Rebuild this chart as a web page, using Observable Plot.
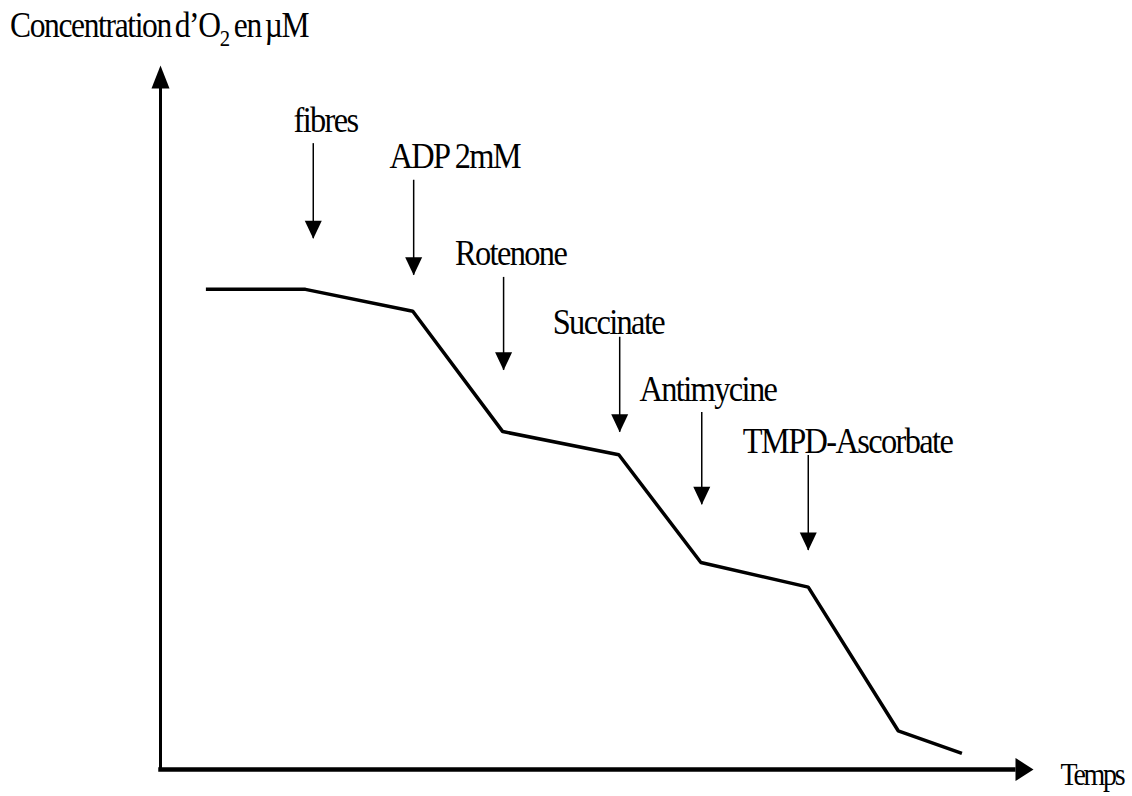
<!DOCTYPE html>
<html>
<head>
<meta charset="utf-8">
<script src="https://cdn.jsdelivr.net/npm/d3@7"></script>
<script src="https://cdn.jsdelivr.net/npm/@observablehq/plot@0.6"></script>
<style>
  html, body { margin: 0; padding: 0; background: #fff; }
  #wrap { width: 1132px; }
  #title { position: relative; height: 50px; font-family: "Liberation Serif", "Times New Roman", serif; color: #000; }
  #title span.t { position: absolute; left: 10px; top: 8px; font-size: 35px; line-height: 35px; letter-spacing: -1.5px; word-spacing: -3px; white-space: nowrap; display: inline-block; transform: scaleX(0.9); transform-origin: 0 0; }
  #title sub { font-size: 23px; vertical-align: -9px; line-height: 0; letter-spacing: 0; }
  svg { display: block; }
</style>
</head>
<body>
<div id="wrap">
  <div id="title"><span class="t">Concentration d’O<sub>2</sub> en µM</span></div>
  <div id="chart"></div>
</div>
<script>
// Oxygen concentration trace (time in arbitrary units, concentration in % of axis)
const traceTime = [5.2, 16.6, 28.9, 39.2, 52.5, 61.9, 74.2, 84.5, 91.8];
const traceConc = [68.2, 68.2, 65.1, 48.0, 44.7, 29.4, 25.9, 5.5, 2.3];

// Additions (annotation arrows)
const addNames  = ["fibres", "ADP 2mM", "Rotenone", "Succinate", "Antimycine", "TMPD-Ascorbate"];
const addTime   = [17.5, 29.0, 39.3, 52.6, 62.0, 74.2];
const addStart  = [88.9, 83.7, 69.9, 61.4, 50.7, 44.6];
const addTip    = [75.4, 70.2, 56.7, 47.9, 37.6, 31.1];
const labelTime = [18.9, 33.7, 40.1, 51.3, 62.7, 78.7];
const labelConc = [90.5, 85.4, 71.7, 61.8, 52.3, 44.9];

const xLabel = "Temps";

const trace = traceTime.map((t, i) => ({t, c: traceConc[i]}));
const adds = addNames.map((name, i) => ({
  name, t: addTime[i], start: addStart[i], tip: addTip[i], lt: labelTime[i], lc: labelConc[i]
}));

// Filled arrowhead symbols (tip at the origin)
const headDown = {draw(ctx) { ctx.moveTo(0, 0); ctx.lineTo(-8.5, -18); ctx.lineTo(8.5, -18); ctx.closePath(); }};
const headUp = {draw(ctx) { ctx.moveTo(0, 0); ctx.lineTo(-9, 23); ctx.lineTo(9, 23); ctx.closePath(); }};
const headRight = {draw(ctx) { ctx.moveTo(0, 0); ctx.lineTo(-18, -11.5); ctx.lineTo(-18, 11.5); ctx.closePath(); }};

const font = "Liberation Serif, Times New Roman, serif";

const chart = Plot.plot({
  width: 1132,
  height: 746,
  margin: 0,
  style: {background: "#fff", color: "#000"},
  x: {domain: [0, 100], range: [160, 1033], axis: null},
  y: {domain: [0, 100], range: [719, 15], axis: null},
  marks: [
    // axes
    Plot.ruleX([0], {y1: 0, y2: 97, stroke: "#000", strokeWidth: 3}),
    Plot.ruleY([0], {x1: -0.2, x2: 98, stroke: "#000", strokeWidth: 4.5}),
    Plot.dot([{t: 0, c: 100}], {x: "t", y: "c", symbol: headUp, fill: "#000", stroke: "none"}),
    Plot.dot([{t: 100, c: 0}], {x: "t", y: "c", symbol: headRight, fill: "#000", stroke: "none"}),
    // trace
    Plot.line(trace, {x: "t", y: "c", stroke: "#000", strokeWidth: 3.5, strokeLinejoin: "miter", strokeLinecap: "butt"}),
    // annotation arrows
    Plot.ruleX(adds, {x: "t", y1: "start", y2: "tip", stroke: "#000", strokeWidth: 1.5}),
    Plot.dot(adds, {x: "t", y: "tip", symbol: headDown, fill: "#000", stroke: "none"}),
    Plot.text(adds, {x: "lt", y: "lc", text: "name", textAnchor: "middle", lineAnchor: "bottom", fontSize: 36, fontFamily: font, fill: "#000"}),
    // x label
    Plot.text([{t: 103.1, c: -2.27}], {x: "t", y: "c", text: () => xLabel, textAnchor: "start", lineAnchor: "bottom", fontSize: 31, fontFamily: font, fill: "#000"})
  ]
});

document.getElementById("chart").appendChild(chart);

// tighten and slightly condense the serif labels to mimic the original typeface
chart.querySelectorAll("g[aria-label='text']").forEach(g => {
  const fs = parseFloat(g.getAttribute("font-size"));
  const s = 0.9;
  g.setAttribute("letter-spacing", fs >= 33 ? "-1.8" : "-2.5");
  g.querySelectorAll("text").forEach(t => {
    const tr = t.getAttribute("transform") || "";
    t.setAttribute("transform", tr + ` scale(${s},1)`);
    if (t.hasAttribute("x")) t.setAttribute("x", parseFloat(t.getAttribute("x")) / s);
  });
});
</script>
</body>
</html>
